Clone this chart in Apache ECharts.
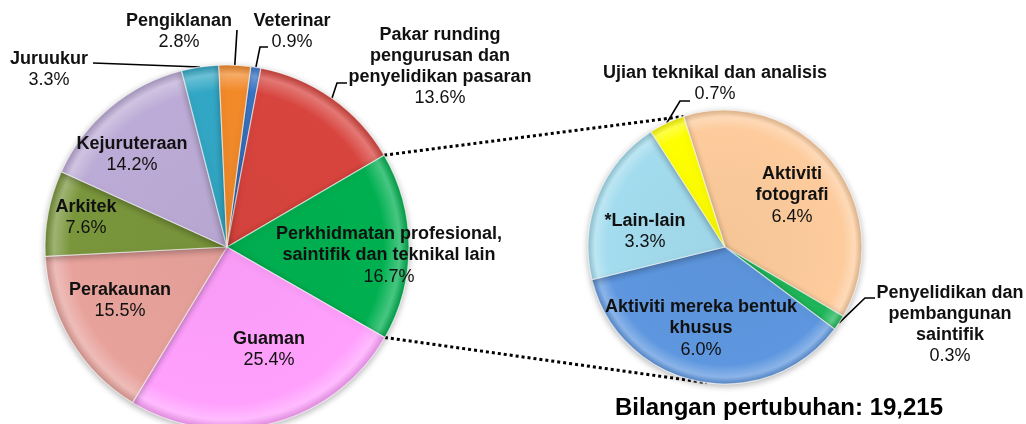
<!DOCTYPE html>
<html><head><meta charset="utf-8">
<script src="https://cdn.jsdelivr.net/npm/echarts@6/dist/echarts.min.js"></script>
<style>html,body{margin:0;padding:0;background:#fff}#c{width:1026px;height:424px}</style>
</head><body><div id="c"></div>
<script>
// ---- data ----
const mainNames = ['Veterinar', 'Pakar runding\npengurusan dan\npenyelidikan pasaran', 'Perkhidmatan profesional,\nsaintifik dan teknikal lain', 'Guaman', 'Perakaunan', 'Arkitek', 'Kejuruteraan', 'Juruukur', 'Pengiklanan'];
const mainValues = [0.9, 13.6, 16.7, 25.4, 15.5, 7.6, 14.2, 3.3, 2.8];
const subNames = ['Aktiviti\nfotografi', 'Penyelidikan dan\npembangunan\nsaintifik', 'Aktiviti mereka bentuk\nkhusus', '*Lain-lain', 'Ujian teknikal dan analisis'];
const subValues = [6.4, 0.3, 6.0, 3.3, 0.7];
const titleText = 'Bilangan pertubuhan: 19,215';

// ---- layout / style ----
const FONT = '"Liberation Sans", Arial, sans-serif';
const L = {cx: 227, cy: 247, r: 182, start: 82.5};
const R = {cx: 725, cy: 247, r: 137, start: 107.6};
const mainColors = ['#3f7fd6', '#d8443e', '#00b050', '#ffa0fd', '#e8a29c', '#7a963c', '#bcabd6', '#32a7c5', '#f28a2a'];
const subColors = ['#fdcb9c', '#1fb85a', '#5e97df', '#a3dcee', '#ffff00'];
// label centre offsets from pie centre; optional leader line points (offsets from pie centre)
const mainLabelPos = [
  {x: 65, y: -215, line: [[33, -200], [41, -200]]},
  {x: 213, y: -180, line: [[110, -164], [120, -164]]},
  {x: 162, y: 9},
  {x: 42, y: 103},
  {x: -107, y: 54},
  {x: -141, y: -29},
  {x: -95, y: -92},
  {x: -178, y: -177, line: [[-134, -184], [-134, -184]]},
  {x: -48, y: -215, line: [[10, -217], [10, -217]]}
];
const subLabelPos = [
  {x: 67, y: -51},
  {x: 225, y: 78, line: [[140, 51], [150, 51]]},
  {x: -24, y: 82},
  {x: -80, y: -15},
  {x: -10, y: -163, line: [[-45, -146], [-35, -146]]}
];
const subBottomConnectorAngle = 187.7;

function ptAt(P, a, rr) { const t = a * Math.PI / 180; return [P.cx + rr * Math.sin(t), P.cy - rr * Math.cos(t)]; }
function startTop(P) { return 90 - P.start; }
function sliceAngles(P, vals, i) {
  const sum = vals.reduce((s, v) => s + v, 0);
  let cum = 0; for (let k = 0; k < i; k++) cum += vals[k];
  const a0 = startTop(P) + 360 * cum / sum;
  const a1 = a0 + 360 * vals[i] / sum;
  return [a0, a1];
}
function mix(hex, t) { // t>0 lighten, t<0 darken
  const n = parseInt(hex.slice(1), 16);
  let r = n >> 16, g = (n >> 8) & 255, b = n & 255;
  const f = c => t >= 0 ? Math.round(c + (255 - c) * t) : Math.round(c * (1 + t));
  return 'rgb(' + f(r) + ',' + f(g) + ',' + f(b) + ')';
}
function bevel(P, c) {
  return {type: 'radial', x: P.cx, y: P.cy, r: P.r, global: true, colorStops: [
    {offset: 0, color: mix(c, -0.03)}, {offset: 0.86, color: c}, {offset: 0.95, color: mix(c, 0.28)}, {offset: 1, color: mix(c, -0.12)}]};
}
function buildData(P, names, vals, colors, pos) {
  return vals.map((v, i) => {
    const outside = !!pos[i].line;
    return {
      name: names[i], value: v,
      itemStyle: {color: bevel(P, colors[i])},
      label: {position: outside ? 'outside' : 'inside'},
      labelLine: {show: outside}
    };
  });
}
function layoutFn(P, vals, pos) {
  return function (params) {
    const i = params.dataIndex, c = pos[i];
    const res = {x: P.cx + c.x, y: P.cy + c.y, align: 'center', verticalAlign: 'middle'};
    if (c.line) {
      const ang = sliceAngles(P, vals, i);
      const anchor = ptAt(P, (ang[0] + ang[1]) / 2, P.r);
      res.labelLinePoints = [anchor].concat(c.line.map(p => [P.cx + p[0], P.cy + p[1]]));
    }
    return res;
  };
}
function pieSeries(P, names, vals, colors, pos) {
  return {
    type: 'pie', center: [P.cx, P.cy], radius: P.r, startAngle: P.start, clockwise: true,
    avoidLabelOverlap: false, animation: false,
    itemStyle: {borderColor: 'rgba(255,255,255,0.6)', borderWidth: 1.2, shadowBlur: 6, shadowColor: 'rgba(0,0,0,0.28)', shadowOffsetY: 2},
    label: {
      show: true, color: '#111', fontFamily: FONT,
      formatter: p => '{b|' + p.name + '}\n{p|' + p.value.toFixed(1) + '%}',
      rich: {
        b: {fontWeight: 'bold', fontSize: 18, lineHeight: 21, color: '#111', fontFamily: FONT},
        p: {fontSize: 18, lineHeight: 22, color: '#111', fontFamily: FONT}
      }
    },
    labelLine: {lineStyle: {color: '#000', width: 1.6}},
    labelLayout: layoutFn(P, vals, pos),
    emphasis: {disabled: true},
    data: buildData(P, names, vals, colors, pos)
  };
}

// connector lines from the main pie's expanded slice to the secondary pie
const expIdx = 2;
const expAng = sliceAngles(L, mainValues, expIdx);
const c1 = ptAt(L, expAng[0], L.r), c2 = ptAt(L, expAng[1], L.r);
const d1 = ptAt(R, startTop(R), R.r), d2 = ptAt(R, subBottomConnectorAngle, R.r);

const chart = echarts.init(document.getElementById('c'), null, {renderer: 'canvas'});
chart.setOption({
  backgroundColor: '#fff',
  animation: false,
  graphic: [
    {type: 'line', z: 0, shape: {x1: c1[0], y1: c1[1], x2: d1[0], y2: d1[1]}, style: {stroke: '#000', lineWidth: 3, lineDash: [3, 3]}},
    {type: 'line', z: 0, shape: {x1: c2[0], y1: c2[1], x2: d2[0], y2: d2[1]}, style: {stroke: '#000', lineWidth: 3, lineDash: [3, 3]}},
    {type: 'text', z: 5, x: 779, y: 408, style: {text: titleText, fill: '#000', fontSize: 24, fontWeight: 'bold', fontFamily: FONT, align: 'center', verticalAlign: 'middle'}}
  ],
  series: [
    pieSeries(L, mainNames, mainValues, mainColors, mainLabelPos),
    pieSeries(R, subNames, subValues, subColors, subLabelPos)
  ]
});
</script></body></html>
